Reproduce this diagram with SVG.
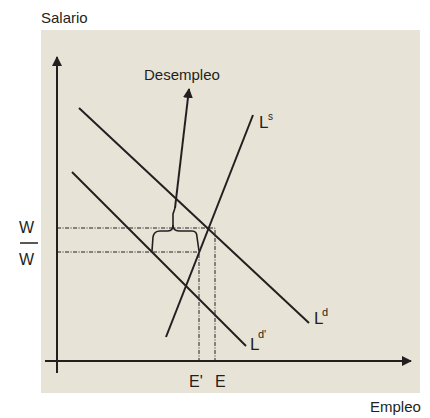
<svg xmlns="http://www.w3.org/2000/svg" width="430" height="418" viewBox="0 0 430 418">
<defs>
<style>
.t{font-family:"Liberation Sans",Arial,sans-serif;fill:#231f20}
.ln{stroke:#231f20;stroke-width:2;fill:none}
.ds{stroke:#231f20;stroke-width:1;fill:none;stroke-dasharray:4 1.5 1 1.5}
</style>
<marker id="ah" markerWidth="10" markerHeight="10" refX="9" refY="5" orient="auto" markerUnits="userSpaceOnUse">
<path d="M0,0 L10,5 L0,10 z" fill="#231f20"/>
</marker>
</defs>
<rect x="0" y="0" width="430" height="418" fill="#ffffff"/>
<rect x="41" y="30" width="379" height="363" fill="#e7e4d7"/>
<g id="axes">
<line class="ln" x1="57" y1="373" x2="57" y2="57" marker-end="url(#ah)"/>
<line class="ln" x1="45" y1="361" x2="411" y2="361" marker-end="url(#ah)"/>
</g>
<g id="connectors">
<path class="ds" d="M57,228 H215 V361"/>
<path class="ds" d="M57,252 H199 V361"/>
<path class="ln" style="stroke-width:1.6" d="M152,251 L153,237 Q154,231 160,231 L168,231 Q173,231 173,225 L173,214 L175,208"/>
<path class="ln" style="stroke-width:1.6" d="M173,225 Q173,231 179,231 L192,231 Q197,231 197,237 L199,251"/>
<line class="ln" x1="175" y1="208" x2="189" y2="89" marker-end="url(#ah)"/>
</g>
<g id="Ld">
<line class="ln" x1="79" y1="108" x2="309" y2="323"/>
<text class="t" x="314" y="324" font-size="17">L</text>
<text class="t" x="322" y="316" font-size="11">d</text>
</g>
<g id="Ldp">
<line class="ln" x1="72" y1="172" x2="246" y2="346"/>
<text class="t" x="250" y="350" font-size="17">L</text>
<text class="t" x="258" y="338" font-size="11">d'</text>
</g>
<g id="Ls">
<line class="ln" x1="253" y1="115" x2="166" y2="337"/>
<text class="t" x="259" y="128" font-size="17">L</text>
<text class="t" x="268" y="120" font-size="10">s</text>
</g>
<g id="labels">
<text class="t" x="41" y="23" font-size="15">Salario</text>
<text class="t" x="144" y="80" font-size="15">Desempleo</text>
<text class="t" x="370" y="412" font-size="15">Empleo</text>
<text class="t" x="189" y="387" font-size="16">E'</text>
<text class="t" x="215" y="387" font-size="16">E</text>
<text class="t" x="19" y="233" font-size="16">W</text>
<line x1="20" y1="243" x2="38" y2="243" stroke="#231f20" stroke-width="1.5"/>
<text class="t" x="19" y="265" font-size="16">W</text>
</g>
</svg>
